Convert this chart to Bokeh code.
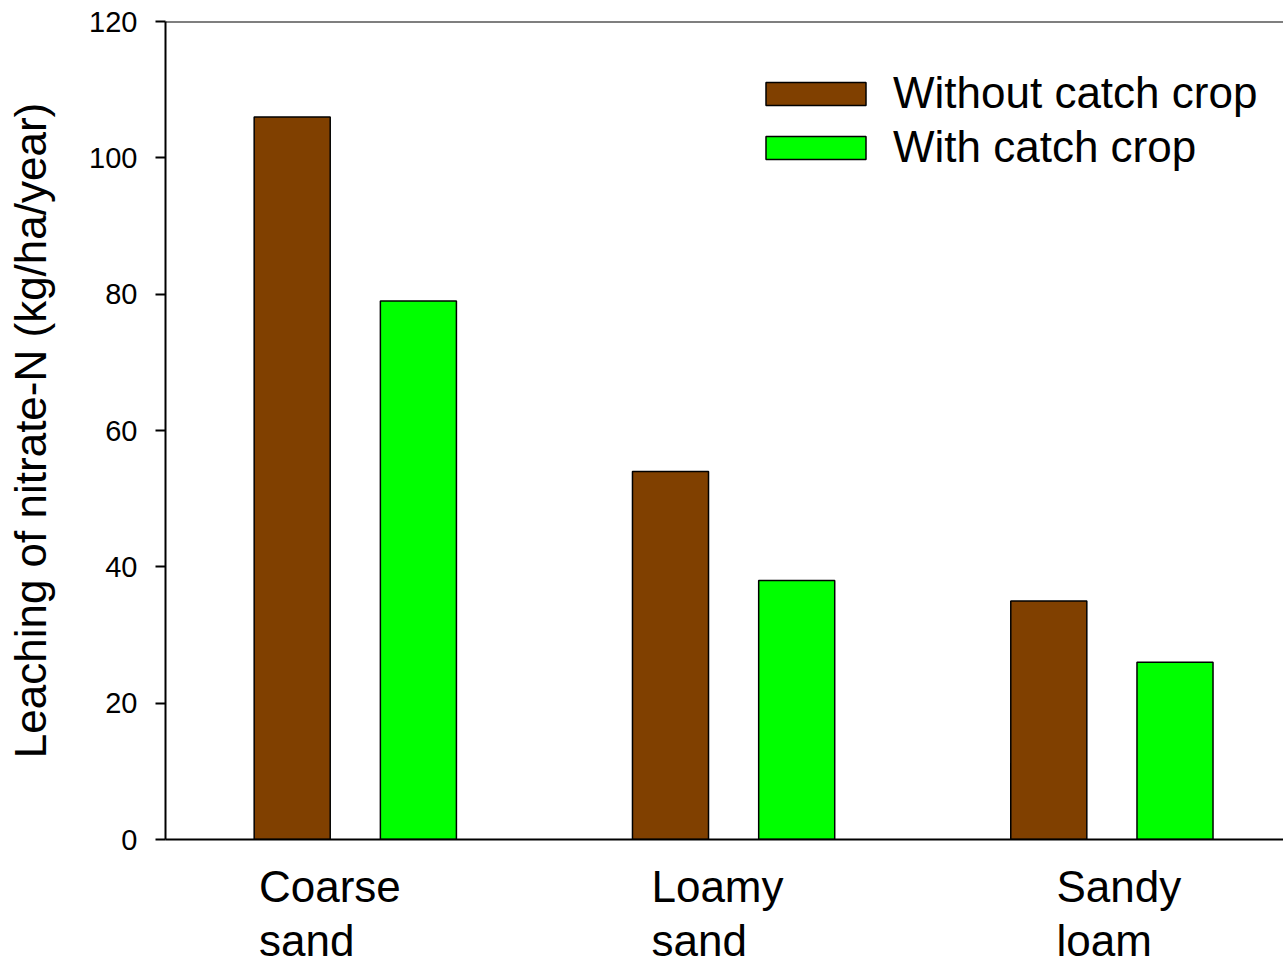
from bokeh.plotting import figure
from bokeh.models import (ColumnDataSource, Range1d, FixedTicker, Span,
                          Legend, LegendItem, LinearAxis)
from bokeh.transform import dodge
from bokeh.embed import file_html
from bokeh.resources import INLINE

# ---- data ----
soil_types = ["Coarse sand", "Loamy sand", "Sandy loam"]
without_catch_crop = [106, 54, 35]
with_catch_crop = [79, 38, 26]
y_ticks = [0, 20, 40, 60, 80, 100, 120]
series_names = ["Without catch crop", "With catch crop"]

FONT = "Liberation Sans"
BROWN = "#804000"
GREEN = "#00FF00"

X_START, X_END = -0.5017, 2.4536
FRAME_W, FRAME_H = 1118, 818
PX_PER_UNIT = FRAME_W / (X_END - X_START)

src = ColumnDataSource(dict(
    idx=list(range(len(soil_types))),
    without=without_catch_crop,
    withc=with_catch_crop,
))

p = figure(frame_width=FRAME_W, frame_height=FRAME_H,
           output_backend="svg", toolbar_location=None,
           x_range=Range1d(X_START, X_END), y_range=Range1d(0, 120),
           min_border_left=165, min_border_top=21, min_border_bottom=0,
           min_border_right=0)
p.background_fill_color = "white"
p.border_fill_color = "white"
p.outline_line_color = None
p.xgrid.visible = False
p.ygrid.visible = False

r1 = p.vbar(x=dodge("idx", -0.1668, range=p.x_range), top="without", width=0.201,
            source=src, fill_color=BROWN, line_color="black", line_width=1.5)
r2 = p.vbar(x=dodge("idx", 0.1668, range=p.x_range), top="withc", width=0.201,
            source=src, fill_color=GREEN, line_color="black", line_width=1.5)

# y axis
ya = p.yaxis[0]
ya.ticker = FixedTicker(ticks=y_ticks)
ya.axis_line_width = 2
ya.axis_line_color = "black"
ya.major_tick_line_width = 2
ya.major_tick_out = 10
ya.major_tick_in = 0
ya.minor_tick_line_color = None
ya.major_label_text_font = FONT
ya.major_label_text_font_size = "29px"
ya.major_label_text_color = "black"
ya.major_label_standoff = 18
ya.axis_label = "Leaching of nitrate-N (kg/ha/year)"
ya.axis_label_text_font = FONT
ya.axis_label_text_font_size = "44px"
ya.axis_label_text_font_style = "normal"
ya.axis_label_text_color = "black"
ya.axis_label_standoff = 31

# category labels: two lines, both left-aligned under each group.
# Each line is centred on its own tick (pixel offsets from the group centre).
line_dx_px = [[-25.4, -16.1, 7.0],      # first word
              [-48.6, -34.4, -7.7]]     # second word
line_standoff = [22, 2]
words = [name.split(" ") for name in soil_types]


def style_axis(ax, ticks, labels, standoff, show_line):
    ax.ticker = FixedTicker(ticks=ticks)
    ax.major_label_overrides = {t: s for t, s in zip(ticks, labels)}
    ax.axis_line_width = 2
    ax.axis_line_color = "black" if show_line else None
    ax.major_tick_line_color = None
    ax.major_tick_out = 0
    ax.major_tick_in = 0
    ax.minor_tick_line_color = None
    ax.minor_tick_out = 0
    ax.major_label_text_font = FONT
    ax.major_label_text_font_size = "44px"
    ax.major_label_text_color = "black"
    ax.major_label_standoff = standoff


for row in range(2):
    ticks = [i + dx / PX_PER_UNIT for i, dx in enumerate(line_dx_px[row])]
    labels = [w[row] for w in words]
    if row == 0:
        ax = p.xaxis[0]
    else:
        ax = LinearAxis()
        p.add_layout(ax, "below")
    style_axis(ax, ticks, labels, line_standoff[row], row == 0)

# top frame line
p.add_layout(Span(location=120, dimension="width", line_color="black", line_width=2))

legend = Legend(items=[LegendItem(label=series_names[0], renderers=[r1]),
                       LegendItem(label=series_names[1], renderers=[r2])],
                location=(588, 667), glyph_width=125, glyph_height=29,
                label_text_font=FONT, label_text_font_size="44px",
                label_text_color="black",
                label_standoff=15, spacing=4, padding=0, margin=0,
                border_line_color=None, background_fill_alpha=0)
p.add_layout(legend)

open("out.html", "w").write(file_html(p, INLINE))
